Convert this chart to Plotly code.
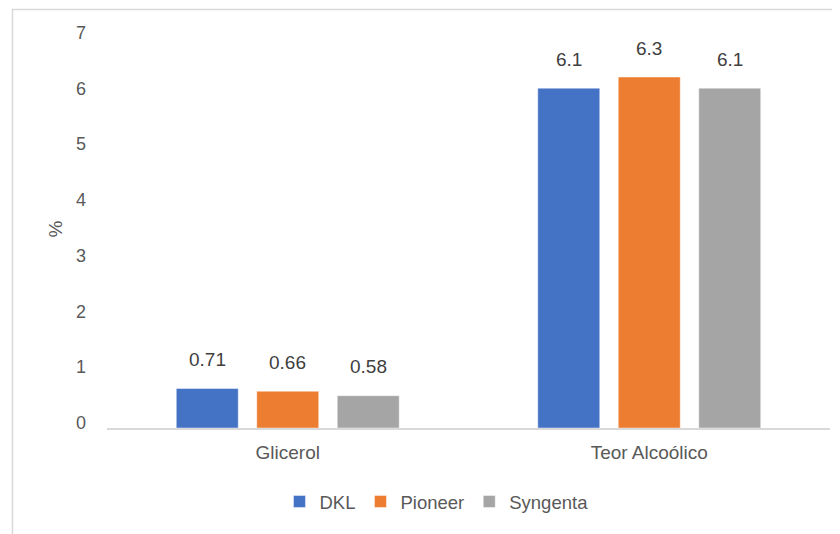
import plotly.graph_objects as go

categories = ["Glicerol", "Teor Alcoólico"]
series_names = ["DKL", "Pioneer", "Syngenta"]
dkl = [0.71, 6.1]
pioneer = [0.66, 6.3]
syngenta = [0.58, 6.1]
colors = ["#4472C4", "#ED7D31", "#A5A5A5"]
y_ticks = [0, 1, 2, 3, 4, 5, 6, 7]

series_values = [dkl, pioneer, syngenta]
FONT = "Liberation Sans, Arial, sans-serif"

fig = go.Figure()
for name, vals, col in zip(series_names, series_values, colors):
    fig.add_trace(go.Bar(
        x=categories, y=vals, name=name,
        marker=dict(color=col, line=dict(color="rgba(255,255,255,0.45)", width=1)),
    ))

# value labels above bars
offsets = [-80.5, 0, 80.5]
for vals, dx in zip(series_values, offsets):
    for c, v in zip(categories, vals):
        fig.add_annotation(x=c, y=v, text=str(v), showarrow=False, xshift=dx, yshift=29,
                           font=dict(family=FONT, size=19, color="#404040"))

# y tick labels (drawn slightly above their tick positions, as in the reference)
for t in y_ticks:
    fig.add_annotation(x=0, xref="paper", y=t, yref="y", text=str(t), showarrow=False,
                       xanchor="right", yanchor="middle", xshift=-19, yshift=5,
                       font=dict(family=FONT, size=18, color="#595959"))

# axis title
fig.add_annotation(x=0, y=0.5, xref="paper", yref="paper", xshift=-65, yshift=4, text="%", textangle=-90,
                   showarrow=False, font=dict(family=FONT, size=19, color="#595959"))

# chart border
fig.add_shape(type="rect", xref="paper", yref="paper",
              x0=(4.5 - 99) / 723, x1=(850 - 99) / 723,
              y0=(420 - 545) / 390, y1=(420 - 1.5) / 390,
              line=dict(color="#D9D9D9", width=1.5), fillcolor="rgba(0,0,0,0)", layer="below")

fig.update_layout(
    width=832, height=526,
    margin=dict(l=99, r=10, t=30, b=106, autoexpand=False),
    paper_bgcolor="white", plot_bgcolor="white",
    barmode="group", bargap=0.332, bargroupgap=0.23,
    font=dict(family=FONT, size=19, color="#595959"),
    showlegend=True,
    legend=dict(orientation="h", xref="container", x=0.515, xanchor="center",
                yref="container", y=0.061, yanchor="middle",
                font=dict(size=18.5, color="#595959"), itemwidth=30, tracegroupgap=0),
    xaxis=dict(showline=True, linecolor="#D9D9D9", linewidth=1.5, ticks="", showgrid=False,
               tickfont=dict(size=19, color="#595959"), ticklabelstandoff=6),
    yaxis=dict(range=[0, 7], tickvals=y_ticks, showgrid=False, zeroline=False, showline=False,
               ticks="", showticklabels=False),
)

fig.write_html("out.html")
